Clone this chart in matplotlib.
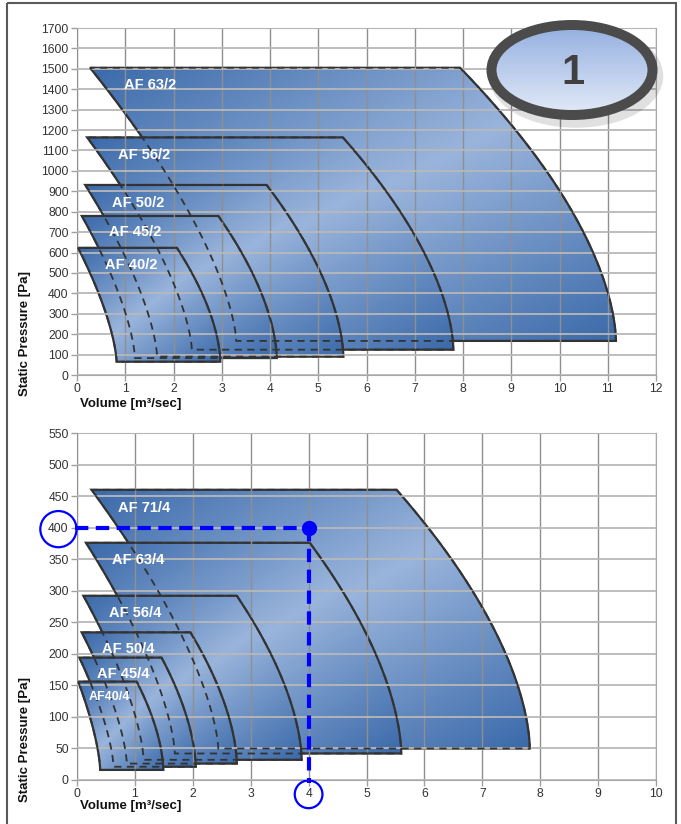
import numpy as np
import matplotlib
matplotlib.use("Agg")
import matplotlib.pyplot as plt
from matplotlib.patches import Polygon, Ellipse, Rectangle
from matplotlib.colors import LinearSegmentedColormap

plt.rcParams['font.family'] = ['Liberation Sans', 'DejaVu Sans']

# --- 2-pole fans (upper chart), corners of each working field ---
names_2p = ["AF 63/2", "AF 56/2", "AF 50/2", "AF 45/2", "AF 40/2"]
p_top_2p = [1505, 1164, 931, 779, 623]      # Pa
p_bot_2p = [167, 124, 90, 83, 65]
q_tl_2p = [0.27, 0.21, 0.17, 0.10, 0.02]    # m3/sec
q_tr_2p = [7.94, 5.51, 3.93, 2.93, 2.07]
q_bl_2p = [3.30, 2.38, 1.66, 1.20, 0.82]
q_br_2p = [11.17, 7.80, 5.52, 4.14, 2.97]
label_q_2p = [0.97, 0.85, 0.73, 0.66, 0.58]
label_p_2p = [1421, 1078, 843, 701, 539]

# --- 4-pole fans (lower chart) ---
names_4p = ["AF 71/4", "AF 63/4", "AF 56/4", "AF 50/4", "AF 45/4", "AF40/4"]
p_top_4p = [460, 376, 292, 234, 194, 156]
p_bot_4p = [50, 42, 32, 26, 21, 16]
q_tl_4p = [0.25, 0.155, 0.11, 0.08, 0.04, 0.02]
q_tr_4p = [5.52, 4.02, 2.76, 1.96, 1.46, 1.03]
q_bl_4p = [2.44, 1.69, 1.15, 0.86, 0.63, 0.40]
q_br_4p = [7.82, 5.60, 3.88, 2.76, 2.05, 1.49]
label_q_4p = [0.71, 0.61, 0.56, 0.44, 0.34, 0.21]
label_p_4p = [431, 348, 264, 207, 168, 132]

# operating point marked in blue
op_q = 4
op_p = 400

fan_cmap = LinearSegmentedColormap.from_list("fan", ["#3b6aaa", "#9ab5dc", "#3b6aaa"])
badge_cmap = LinearSegmentedColormap.from_list("badge", ["#93afe0", "#e4ebf8"])
EDGE = "#333333"


def outline(qtl, qtr, qbl, qbr, ptop, pbot, n=60):
    t = np.linspace(0, 1, n)
    p = ptop - t * (ptop - pbot)
    right_q = qtr + (qbr - qtr) * (1 - (1 - t) ** 1.7)
    left_q = qtl + (qbl - qtl) * (1 - (1 - t) ** 1.5)
    qs = np.concatenate([right_q, left_q[::-1]])
    ps = np.concatenate([p, p[::-1]])
    return np.column_stack([qs, ps])


def draw_chart(ax, names, ptop, pbot, qtl, qtr, qbl, qbr, lq, lp, xmax, ymax, ystep, small=()):
    shapes = []
    for i in range(len(names)):
        verts = outline(qtl[i], qtr[i], qbl[i], qbr[i], ptop[i], pbot[i])
        z = 1.0 + i * 0.2
        patch = Polygon(verts, closed=True, fc="none", ec=EDGE, lw=1.6, zorder=z + 0.1,
                        joinstyle="miter")
        ax.add_patch(patch)
        x0, y0 = verts.min(0)
        x1, y1 = verts.max(0)
        u = np.linspace(0, 1, 200)[None, :]
        v = np.linspace(0, 1, 200)[:, None]
        g = (u + v) / 2
        im = ax.imshow(g, cmap=fan_cmap, vmin=0, vmax=1, extent=(x0, x1, y0, y1),
                       aspect="auto", zorder=z, interpolation="bilinear")
        im.set_clip_path(patch)
        shapes.append(verts)
        fs = 9 if names[i] in small else 10.5
        ax.text(lq[i], lp[i], names[i], color="white", fontsize=fs, fontweight="bold",
                ha="left", va="center", zorder=7)
    # hidden edges shown dashed on top
    for verts in shapes:
        ax.add_patch(Polygon(verts, closed=True, fill=False, ec=EDGE, lw=1.3,
                             ls=(0, (4, 3)), zorder=5))

    ax.set_xlim(0, xmax)
    ax.set_ylim(0, ymax)
    ax.set_xticks(np.arange(0, xmax + 1, 1))
    ax.set_yticks(np.arange(0, ymax + 1, ystep))
    ax.set_axisbelow(False)
    ax.xaxis.grid(True, color="#8f8f8f", lw=1.0)
    ax.yaxis.grid(True, color="#b8b8b8", lw=1.3)
    for s in ax.spines.values():
        s.set_color("#a8a8a8")
    ax.tick_params(length=4, width=1, color="#a0a0a0", labelsize=8.7,
                   labelcolor="#333333", pad=2)


fig = plt.figure(figsize=(6.81, 8.24), dpi=100)
W, H = 681, 824

ax1 = fig.add_axes([77 / W, 1 - 375 / H, 579 / W, 347 / H])
draw_chart(ax1, names_2p, p_top_2p, p_bot_2p, q_tl_2p, q_tr_2p, q_bl_2p, q_br_2p,
           label_q_2p, label_p_2p, 12, 1700, 100)

ax2 = fig.add_axes([77 / W, 1 - 780 / H, 579 / W, 347 / H])
draw_chart(ax2, names_4p, p_top_4p, p_bot_4p, q_tl_4p, q_tr_4p, q_bl_4p, q_br_4p,
           label_q_4p, label_p_4p, 10, 550, 50, small=("AF40/4",))

# operating point
blue_dash = (0, (3.2, 1.8))
ax2.plot([-0.04, op_q], [op_p, op_p], color="blue", lw=3, ls=blue_dash, clip_on=False, zorder=8)
ax2.plot([op_q, op_q], [op_p, -5], color="blue", lw=3, ls=blue_dash, clip_on=False, zorder=8)
ax2.plot(op_q, op_p, "o", ms=10, color="blue", zorder=9)
circ = dict(boxstyle="circle,pad=0.65", fc="none", ec="blue", lw=1.6)
ax2.yaxis.get_major_ticks()[int(op_p / 50)].label1.set_bbox(circ)
ax2.xaxis.get_major_ticks()[op_q].label1.set_bbox(circ)

# axis titles
for yc, xl in [(333, 404), (740, 806)]:
    fig.text(25 / W, 1 - yc / H, "Static Pressure [Pa]", rotation=90, fontsize=9.5,
             fontweight="bold", ha="center", va="center", color="#111111")
    fig.text(80 / W, 1 - xl / H, "Volume [m³/sec]", fontsize=9.5, fontweight="bold",
             ha="left", va="center", color="#111111")

# overlay for frame and badge
ov = fig.add_axes([0, 0, 1, 1], zorder=10)
ov.set_xlim(0, W)
ov.set_ylim(H, 0)
ov.axis("off")
ov.patch.set_alpha(0)
ov.add_patch(Rectangle((7, 3), 669, 840, fill=False, ec="#5a5a5a", lw=1.5))

cx, cy = 572, 70
ov.add_patch(Ellipse((cx + 4, cy + 6), 162, 91, fill=False, ec="#000000", lw=9, alpha=0.12))
badge = Ellipse((cx, cy), 161, 90, fc="none", ec="#4b4b4b", lw=7.2, zorder=3)
ov.add_patch(badge)
bg = ov.imshow(np.linspace(0, 1, 100)[:, None], cmap=badge_cmap,
               extent=(cx - 82, cx + 82, cy + 46, cy - 46), aspect="auto", zorder=2)
bg.set_clip_path(badge)
ov.set_xlim(0, W)
ov.set_ylim(H, 0)
ov.text(cx + 1, cy + 3, "1", fontsize=30, fontweight="bold", color="#404040",
        ha="center", va="center", zorder=4)

fig.savefig("out.png", dpi=100)
